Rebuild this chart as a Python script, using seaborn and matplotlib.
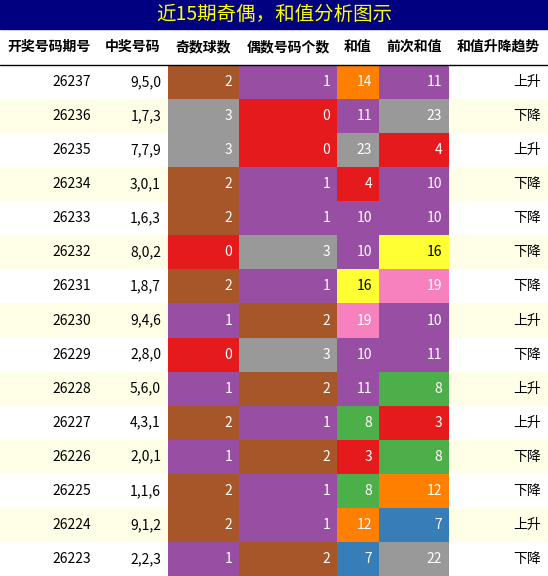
import matplotlib
matplotlib.use("Agg")
import matplotlib.pyplot as plt
from matplotlib.patches import Rectangle
import seaborn as sns

sns.set_theme(style="white")
plt.rcParams['font.family'] = ['Noto Sans CJK SC', 'DejaVu Sans']

title = "近15期奇偶，和值分析图示"
headers = ["开奖号码期号", "中奖号码", "奇数球数", "偶数号码个数", "和值", "前次和值", "和值升降趋势"]
periods = ["26237","26236","26235","26234","26233","26232","26231","26230","26229","26228","26227","26226","26225","26224","26223"]
numbers = ["9,5,0","1,7,3","7,7,9","3,0,1","1,6,3","8,0,2","1,8,7","9,4,6","2,8,0","5,6,0","4,3,1","2,0,1","1,1,6","9,1,2","2,2,3"]
odd = [2,3,3,2,2,0,2,1,0,1,2,1,2,2,1]
even = [1,0,0,1,1,3,1,2,3,2,1,2,1,1,2]
sums = [14,11,23,4,10,10,16,19,10,11,8,3,8,12,7]
prev = [11,23,4,10,10,16,19,10,11,8,3,8,12,7,22]
trend = ["上升","下降","上升","下降","下降","下降","下降","上升","下降","上升","上升","下降","下降","上升","下降"]

pal = sns.color_palette("Set1", 9)
red, blue, green, purple, orange, yellow, brown, pink, gray = pal
count_col = {0: red, 1: purple, 2: brown, 3: gray}
sum_col = {3: red, 4: red, 7: blue, 8: green, 10: purple, 11: purple, 12: orange,
           14: orange, 16: yellow, 19: pink, 22: gray, 23: gray}

W, H = 548, 576
fig = plt.figure(figsize=(5.48, 5.76), dpi=100)
ax = fig.add_axes([0, 0, 1, 1])
ax.set_xlim(0, W); ax.set_ylim(H, 0); ax.axis("off")

edges = [0, 98, 168, 239, 337, 379, 449, 548]
ax.add_patch(Rectangle((0, 0), W, 29, color="#000080"))
ax.text(W/2, 15, title, color="#FFFF00", fontsize=14, ha="center", va="center")
for i, h in enumerate(headers):
    ax.text((edges[i]+edges[i+1])/2, 47, h, fontsize=10, fontweight="bold", ha="center", va="center", color="black")
ax.plot([0, W], [64.5, 64.5], color="black", lw=1)

rh = (H - 65) / 15
for r in range(15):
    y0 = 65 + r*rh
    bg = "white" if r % 2 == 0 else "#FFFFE8"
    ax.add_patch(Rectangle((0, y0), W, rh, color=bg, lw=0))
    vals = [periods[r], numbers[r], odd[r], even[r], sums[r], prev[r], trend[r]]
    fills = [None, None, count_col[odd[r]], count_col[even[r]], sum_col[sums[r]], sum_col[prev[r]], None]
    for c, v in enumerate(vals):
        tc = "black"
        if fills[c] is not None:
            ax.add_patch(Rectangle((edges[c], y0), edges[c+1]-edges[c], rh, color=fills[c], lw=0))
            tc = "black" if fills[c] == yellow else "white"
        ax.text(edges[c+1]-7, y0+rh/2, str(v), fontsize=10, ha="right", va="center", color=tc)

fig.savefig("out.png", dpi=100)
